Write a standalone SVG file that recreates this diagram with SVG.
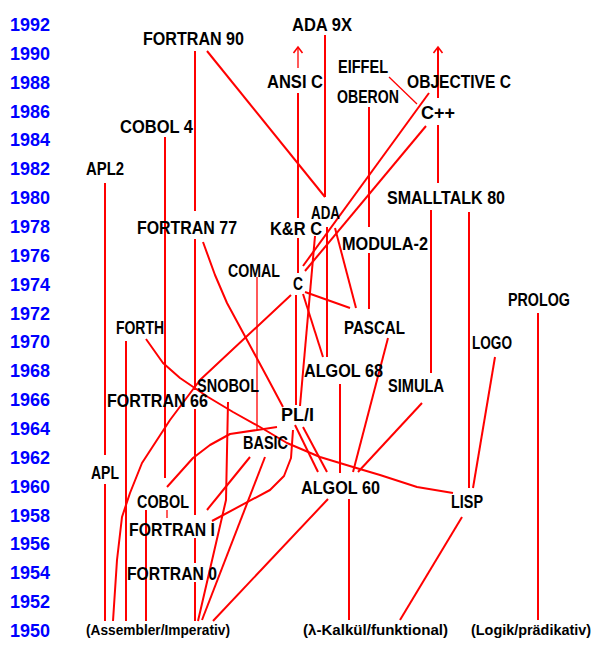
<svg xmlns="http://www.w3.org/2000/svg" width="603" height="654" viewBox="0 0 603 654">
<style>
.yr{font-family:"Liberation Sans",Arial,sans-serif;font-weight:bold;font-size:19px;fill:#0000ff}
.lb{font-family:"Liberation Sans",Arial,sans-serif;font-weight:bold;font-size:18px;fill:#000}
.bt{font-family:"Liberation Sans","DejaVu Sans",Arial,sans-serif;font-weight:bold;font-size:15px;fill:#000}
.cn path,.cn polyline{fill:none;stroke:#ff0000;stroke-width:2;stroke-linejoin:round}
.cn .thin{stroke-width:1.3}
</style>
<defs>
<marker id="arr" markerUnits="userSpaceOnUse" markerWidth="14" markerHeight="14" viewBox="-8 -7 10 14" refX="0" refY="0" orient="auto">
<path d="M-6,-4.5 L0,0 L-6,4.5" fill="none" stroke="#ff0000" stroke-width="1.6"/>
</marker>
</defs>
<rect width="603" height="654" fill="#fff"/>
<g id="years">
<text class="yr" x="10" y="31" textLength="40" lengthAdjust="spacingAndGlyphs">1992</text>
<text class="yr" x="10" y="60" textLength="40" lengthAdjust="spacingAndGlyphs">1990</text>
<text class="yr" x="10" y="89" textLength="40" lengthAdjust="spacingAndGlyphs">1988</text>
<text class="yr" x="10" y="118" textLength="40" lengthAdjust="spacingAndGlyphs">1986</text>
<text class="yr" x="10" y="146" textLength="40" lengthAdjust="spacingAndGlyphs">1984</text>
<text class="yr" x="10" y="175" textLength="40" lengthAdjust="spacingAndGlyphs">1982</text>
<text class="yr" x="10" y="204" textLength="40" lengthAdjust="spacingAndGlyphs">1980</text>
<text class="yr" x="10" y="233" textLength="40" lengthAdjust="spacingAndGlyphs">1978</text>
<text class="yr" x="10" y="262" textLength="40" lengthAdjust="spacingAndGlyphs">1976</text>
<text class="yr" x="10" y="291" textLength="40" lengthAdjust="spacingAndGlyphs">1974</text>
<text class="yr" x="10" y="320" textLength="40" lengthAdjust="spacingAndGlyphs">1972</text>
<text class="yr" x="10" y="348" textLength="40" lengthAdjust="spacingAndGlyphs">1970</text>
<text class="yr" x="10" y="377" textLength="40" lengthAdjust="spacingAndGlyphs">1968</text>
<text class="yr" x="10" y="406" textLength="40" lengthAdjust="spacingAndGlyphs">1966</text>
<text class="yr" x="10" y="435" textLength="40" lengthAdjust="spacingAndGlyphs">1964</text>
<text class="yr" x="10" y="464" textLength="40" lengthAdjust="spacingAndGlyphs">1962</text>
<text class="yr" x="10" y="493" textLength="40" lengthAdjust="spacingAndGlyphs">1960</text>
<text class="yr" x="10" y="522" textLength="40" lengthAdjust="spacingAndGlyphs">1958</text>
<text class="yr" x="10" y="550" textLength="40" lengthAdjust="spacingAndGlyphs">1956</text>
<text class="yr" x="10" y="579" textLength="40" lengthAdjust="spacingAndGlyphs">1954</text>
<text class="yr" x="10" y="608" textLength="40" lengthAdjust="spacingAndGlyphs">1952</text>
<text class="yr" x="10" y="637" textLength="40" lengthAdjust="spacingAndGlyphs">1950</text>
</g>
<g id="connectors" class="cn">
<path d="M105,183 V455"/>
<path d="M105,484 V621"/>
<path d="M165,137 V478"/>
<path d="M167,510 V518" class="thin"/>
<path d="M146,510 V621"/>
<path d="M195,51 V211"/>
<path d="M195,239 V390"/>
<path d="M195,409 V515"/>
<path d="M195,538 V563"/>
<path d="M195,582 V621"/>
<path d="M126,341 V621"/>
<path d="M207,51 L325,197"/>
<path d="M325,35 V197"/>
<path d="M298,68 V47" class="thin" marker-end="url(#arr)"/>
<path d="M298,93 V218"/>
<path d="M298,238 V273"/>
<path d="M438,98 V47" marker-end="url(#arr)"/>
<path d="M438,125 V183"/>
<path d="M369,107 V227"/>
<path d="M369,253 V309"/>
<path d="M389,77 L417,104" class="thin"/>
<path d="M429,93 L303,266"/>
<path d="M426,126 L305,271"/>
<path d="M431,210 V373"/>
<path d="M469,212 V488"/>
<path d="M495,357 L473,488"/>
<path d="M538,313 V620"/>
<path d="M462,517 L400,620"/>
<path d="M349,499 V620"/>
<path d="M328,499 L213,621"/>
<polyline points="146,339 163,363 180,378 208,397 233,412 260,427 287,443 320,457 353,467 380,475 417,487 453,493"/>
<polyline points="203,242 215,275 227,303 247,340 267,377 283,407"/>
<path d="M327,227 V357"/>
<path d="M315,236 L300,406"/>
<path d="M296,295 V405"/>
<path d="M303,294 L323,357"/>
<path d="M305,292 L350,308"/>
<path d="M335,228 L356,308"/>
<polyline points="291,295 200,380 170,420 142,463 130,493 122,517 117,560 113,621"/>
<path d="M257,277 V430" class="thin"/>
<polyline points="228,402 226,500 198,621"/>
<path d="M250,457 L207,510"/>
<path d="M265,457 L202,620"/>
<polyline points="293,430 291,458 284,476 270,490 212,521"/>
<path d="M295,425 L318,472"/>
<path d="M303,427 L327,472"/>
<polyline points="167,487 193,458 210,445 230,434 277,427"/>
<path d="M340,384 V473"/>
<path d="M388,338 L353,472"/>
<path d="M422,403 L358,472"/>
</g>
<g id="ada9x"><text class="lb" x="292" y="31" textLength="60" lengthAdjust="spacingAndGlyphs">ADA 9X</text></g>
<g id="fortran90"><text class="lb" x="143" y="45" textLength="101" lengthAdjust="spacingAndGlyphs">FORTRAN 90</text></g>
<g id="ansic"><text class="lb" x="267" y="88" textLength="56" lengthAdjust="spacingAndGlyphs">ANSI C</text></g>
<g id="eiffel"><text class="lb" x="338" y="73" textLength="50" lengthAdjust="spacingAndGlyphs">EIFFEL</text></g>
<g id="objectivec"><text class="lb" x="407" y="88" textLength="104" lengthAdjust="spacingAndGlyphs">OBJECTIVE C</text></g>
<g id="oberon"><text class="lb" x="337" y="103" textLength="62" lengthAdjust="spacingAndGlyphs">OBERON</text></g>
<g id="cpp"><text class="lb" x="421" y="119" textLength="34" lengthAdjust="spacingAndGlyphs">C++</text></g>
<g id="cobol4"><text class="lb" x="120" y="133" textLength="73" lengthAdjust="spacingAndGlyphs">COBOL 4</text></g>
<g id="apl2"><text class="lb" x="86" y="175" textLength="38" lengthAdjust="spacingAndGlyphs">APL2</text></g>
<g id="smalltalk80"><text class="lb" x="387" y="204" textLength="118" lengthAdjust="spacingAndGlyphs">SMALLTALK 80</text></g>
<g id="ada"><text class="lb" x="311" y="219" textLength="29" lengthAdjust="spacingAndGlyphs">ADA</text></g>
<g id="krc"><text class="lb" x="270" y="235" textLength="52" lengthAdjust="spacingAndGlyphs">K&amp;R C</text></g>
<g id="fortran77"><text class="lb" x="137" y="234" textLength="100" lengthAdjust="spacingAndGlyphs">FORTRAN 77</text></g>
<g id="modula2"><text class="lb" x="342" y="250" textLength="86" lengthAdjust="spacingAndGlyphs">MODULA-2</text></g>
<g id="comal"><text class="lb" x="228" y="277" textLength="52" lengthAdjust="spacingAndGlyphs">COMAL</text></g>
<g id="c"><text class="lb" x="293" y="290" textLength="10" lengthAdjust="spacingAndGlyphs">C</text></g>
<g id="prolog"><text class="lb" x="508" y="306" textLength="62" lengthAdjust="spacingAndGlyphs">PROLOG</text></g>
<g id="forth"><text class="lb" x="116" y="334" textLength="48" lengthAdjust="spacingAndGlyphs">FORTH</text></g>
<g id="pascal"><text class="lb" x="344" y="334" textLength="61" lengthAdjust="spacingAndGlyphs">PASCAL</text></g>
<g id="logo"><text class="lb" x="472" y="349" textLength="40" lengthAdjust="spacingAndGlyphs">LOGO</text></g>
<g id="algol68"><text class="lb" x="304" y="377" textLength="79" lengthAdjust="spacingAndGlyphs">ALGOL 68</text></g>
<g id="simula"><text class="lb" x="388" y="392" textLength="56" lengthAdjust="spacingAndGlyphs">SIMULA</text></g>
<g id="snobol"><text class="lb" x="197" y="392" textLength="62" lengthAdjust="spacingAndGlyphs">SNOBOL</text></g>
<g id="fortran66"><text class="lb" x="107" y="407" textLength="101" lengthAdjust="spacingAndGlyphs">FORTRAN 66</text></g>
<g id="pli"><text class="lb" x="281" y="421" textLength="33" lengthAdjust="spacingAndGlyphs">PL/I</text></g>
<g id="basic"><text class="lb" x="243" y="449" textLength="45" lengthAdjust="spacingAndGlyphs">BASIC</text></g>
<g id="apl"><text class="lb" x="91" y="479" textLength="28" lengthAdjust="spacingAndGlyphs">APL</text></g>
<g id="algol60"><text class="lb" x="301" y="494" textLength="79" lengthAdjust="spacingAndGlyphs">ALGOL 60</text></g>
<g id="lisp"><text class="lb" x="451" y="508" textLength="32" lengthAdjust="spacingAndGlyphs">LISP</text></g>
<g id="cobol"><text class="lb" x="137" y="508" textLength="52" lengthAdjust="spacingAndGlyphs">COBOL</text></g>
<g id="fortran1"><text class="lb" x="129" y="536" textLength="86" lengthAdjust="spacingAndGlyphs">FORTRAN I</text></g>
<g id="fortran0"><text class="lb" x="127" y="580" textLength="90" lengthAdjust="spacingAndGlyphs">FORTRAN 0</text></g>
<g id="assembler"><text class="bt" x="86" y="635" textLength="144" lengthAdjust="spacingAndGlyphs">(Assembler/Imperativ)</text></g>
<g id="lambda"><text class="bt" x="303" y="635" textLength="145" lengthAdjust="spacingAndGlyphs">(λ-Kalkül/funktional)</text></g>
<g id="logik"><text class="bt" x="471" y="635" textLength="120" lengthAdjust="spacingAndGlyphs">(Logik/prädikativ)</text></g>
</svg>
